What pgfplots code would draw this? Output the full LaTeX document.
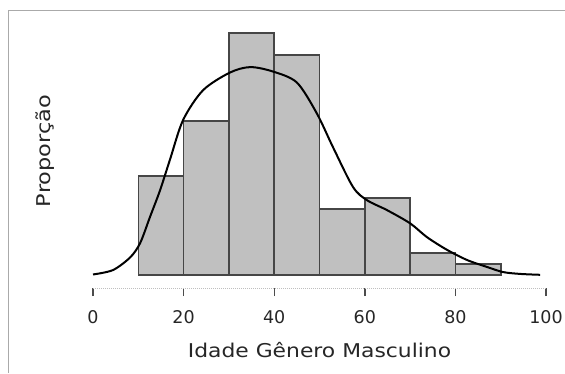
\documentclass[border=0pt]{standalone}
\usepackage{graphicx}
\usepackage{pgfplots}
\pgfplotsset{compat=1.18}
\usepackage{fontspec}
\setmainfont{DejaVu Sans}
\definecolor{barfill}{RGB}{192,192,192}
\definecolor{baredge}{RGB}{70,70,70}
\definecolor{framegray}{RGB}{170,170,170}
\begin{document}
\begin{tikzpicture}[x=1pt,y=1pt]
\path[use as bounding box] (0,0) rectangle (565,373);
\draw[framegray, line width=1pt] (8.5,0) -- (8.5,362.5) -- (565,362.5);
\begin{axis}[
  at={(93pt,85pt)}, anchor=south west,
  scale only axis, width=453pt, height=255pt,
  xmin=0, xmax=100, ymin=-1.18, ymax=22,
  axis x line=bottom, axis y line=none,
  x axis line style={draw=black!25, densely dotted, line width=1pt, -},
  xtick={0,20,...,100},
  tick align=outside, major tick length=8pt,
  xtick style={draw=black!70, line width=1.4pt},
  /pgf/number format/assume math mode=true,
  ticklabel style={font=\fontsize{17.5}{20}\selectfont, text=black!85},
  xticklabel style={anchor=center, yshift=-21pt},
  xlabel={\scalebox{1.15}[1]{Idade Gênero Masculino}},
  xlabel style={at={(axis description cs:0.5,0)}, anchor=center, yshift=-62pt, font=\fontsize{19}{22}\selectfont, text=black!85},
  clip=false,
]
\addplot[ybar interval, fill=barfill, draw=baredge, line width=1.6pt] coordinates {(10,9)(20,14)(30,22)(40,20)(50,6)(60,7)(70,2)(80,1)(90,1)};
\addplot[black, line width=2pt, smooth] coordinates {
(0,0.05) (4.4,0.45) (8.2,1.6) (10.4,2.9) (12.6,5.3) (14.8,7.7) (17,10.5) (19.9,14.1) (24.3,16.8) (30.2,18.4) (34.7,18.9) (39.7,18.5) (45,17.5) (49.4,14.7) (53,11.6) (57.4,8.0) (60.5,6.8) (64.9,5.9) (70,4.7) (73.7,3.45) (78.1,2.3) (82.6,1.36) (87,0.73) (90.5,0.27) (94.3,0.1) (98.7,0.02)};
\end{axis}
\node[rotate=90, font=\fontsize{19}{22}\selectfont, text=black!85] at (45,222) {\scalebox{1.18}[1]{Proporção}};
\end{tikzpicture}
\end{document}
